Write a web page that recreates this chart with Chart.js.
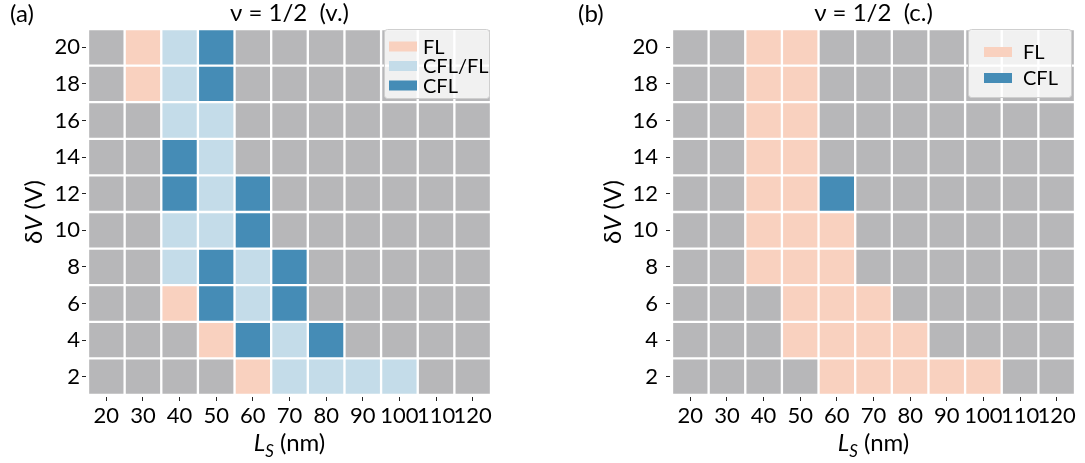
<!DOCTYPE html>
<html>
<head>
<meta charset="utf-8">
<script src="https://cdn.jsdelivr.net/npm/chart.js@4.4.1/dist/chart.umd.min.js"></script>
<style>
  body { margin: 0; background: #fff; }
  #wrap { position: relative; width: 1085px; height: 463px; }
  #boxA { position: absolute; left: 0; top: 0; width: 545px; height: 463px; }
  #boxB { position: absolute; left: 545px; top: 0; width: 540px; height: 463px; }
</style>
</head>
<body>
<div id="wrap">
  <div id="boxA"><canvas id="chartA"></canvas></div>
  <div id="boxB"><canvas id="chartB"></canvas></div>
</div>
<script>
// L_S categories (nm) and dV rows (V), top row first
const lsLabels = ['20', '30', '40', '50', '60', '70', '80', '90', '100', '110', '120'];
const dvRows = [20, 18, 16, 14, 12, 10, 8, 6, 4, 2];
const dvTicks = [2, 4, 6, 8, 10, 12, 14, 16, 18, 20];

// phase codes: 0 = none, 1 = FL, 2 = CFL/FL, 3 = CFL
const phaseNames = ['', 'FL', 'CFL/FL', 'CFL'];

// (a) nu = 1/2 (v.)
const phasesV = [
  [0, 1, 2, 3, 0, 0, 0, 0, 0, 0, 0],
  [0, 1, 2, 3, 0, 0, 0, 0, 0, 0, 0],
  [0, 0, 2, 2, 0, 0, 0, 0, 0, 0, 0],
  [0, 0, 3, 2, 0, 0, 0, 0, 0, 0, 0],
  [0, 0, 3, 2, 3, 0, 0, 0, 0, 0, 0],
  [0, 0, 2, 2, 3, 0, 0, 0, 0, 0, 0],
  [0, 0, 2, 3, 2, 3, 0, 0, 0, 0, 0],
  [0, 0, 1, 3, 2, 3, 0, 0, 0, 0, 0],
  [0, 0, 0, 1, 3, 2, 3, 0, 0, 0, 0],
  [0, 0, 0, 0, 1, 2, 2, 2, 2, 0, 0]
];

// (b) nu = 1/2 (c.)
const phasesC = [
  [0, 0, 1, 1, 0, 0, 0, 0, 0, 0, 0],
  [0, 0, 1, 1, 0, 0, 0, 0, 0, 0, 0],
  [0, 0, 1, 1, 0, 0, 0, 0, 0, 0, 0],
  [0, 0, 1, 1, 0, 0, 0, 0, 0, 0, 0],
  [0, 0, 1, 1, 3, 0, 0, 0, 0, 0, 0],
  [0, 0, 1, 1, 1, 0, 0, 0, 0, 0, 0],
  [0, 0, 1, 1, 1, 0, 0, 0, 0, 0, 0],
  [0, 0, 0, 1, 1, 1, 0, 0, 0, 0, 0],
  [0, 0, 0, 1, 1, 1, 1, 0, 0, 0, 0],
  [0, 0, 0, 0, 1, 1, 1, 1, 1, 0, 0]
];

const legendV = [1, 2, 3];
const legendC = [1, 3];

const phaseColors = ['#b7b7b9', '#f9d1bf', '#c4dce9', '#458cb6'];
const FONT = 'Lato, "Open Sans", sans-serif';
const FS = 22;   // tick labels
const FT = 24;   // titles

function makeDatasets(grid) {
  return dvRows.map((dv, r) => ({
    label: 'dV = ' + dv,
    data: grid[r].map(() => [dv - 1, dv + 1]),
    backgroundColor: grid[r].map(c => phaseColors[c]),
    borderColor: '#ffffff',
    borderWidth: 1.5,
    borderSkipped: false,
    grouped: false,
    barPercentage: 1,
    categoryPercentage: 1
  }));
}

function drawParts(ctx, parts, x, y) {
  let w = 0;
  parts.forEach(p => {
    ctx.font = (p.italic ? 'italic ' : '') + p.size + 'px ' + FONT;
    p.w = ctx.measureText(p.text).width;
    w += p.w;
  });
  let cx = x - w / 2;
  ctx.textAlign = 'left';
  ctx.textBaseline = 'alphabetic';
  parts.forEach(p => {
    ctx.font = (p.italic ? 'italic ' : '') + p.size + 'px ' + FONT;
    ctx.fillText(p.text, cx, y + (p.dy || 0));
    cx += p.w;
  });
}

const decor = {
  id: 'decor',
  afterDraw(chart, args, o) {
    const ctx = chart.ctx;
    const a = chart.chartArea;
    ctx.save();
    ctx.fillStyle = '#000';

    // panel letter
    ctx.font = FT + 'px ' + FONT;
    ctx.textAlign = 'left';
    ctx.textBaseline = 'alphabetic';
    ctx.fillText(o.letter, o.letterX, 22);

    // axis titles
    drawParts(ctx, [
      { text: 'L', italic: true, size: FT },
      { text: 'S', italic: true, size: 17, dy: 6 },
      { text: ' (nm)', size: FT }
    ], (a.left + a.right) / 2, 451);

    ctx.save();
    ctx.translate(o.yTitleX, (a.top + a.bottom) / 2);
    ctx.rotate(-Math.PI / 2);
    drawParts(ctx, [
      { text: 'δ', size: FT },
      { text: 'V', italic: true, size: FT },
      { text: ' (V)', size: FT }
    ], 0, 8);
    ctx.restore();

    // legend box
    const bx = a.left + 296, by = a.top, bw = a.right - o.legendRight - bx, bh = o.legendH;
    ctx.beginPath();
    ctx.roundRect(bx + 0.5, by + 0.5, bw, bh, 3);
    ctx.fillStyle = 'rgba(255,255,255,0.8)';
    ctx.fill();
    ctx.strokeStyle = '#cfcfcf';
    ctx.lineWidth = 1;
    ctx.stroke();

    ctx.font = '20px ' + FONT;
    ctx.textBaseline = 'middle';
    o.items.forEach((code, i) => {
      const yc = by + o.rowY0 + i * o.rowStep;
      ctx.fillStyle = phaseColors[code];
      ctx.fillRect(bx + o.swatchX, yc - 5, 28, 10);
      ctx.fillStyle = '#000';
      ctx.fillText(phaseNames[code], bx + o.textX, yc + 1);
    });
    ctx.restore();
  }
};

function makeChart(id, grid, cfg) {
  return new Chart(document.getElementById(id), {
    type: 'bar',
    data: { labels: lsLabels, datasets: makeDatasets(grid) },
    plugins: [decor],
    options: {
      responsive: true,
      maintainAspectRatio: false,
      animation: false,
      layout: { padding: { left: 0, right: cfg.padRight, top: 0, bottom: 0 } },
      scales: {
        x: {
          type: 'category',
          offset: true,
          afterFit: s => { s.height = 68; },
          grid: { display: true, offset: false, drawOnChartArea: false, tickLength: 8, tickColor: '#222', tickBorderDash: [0, 2, 4, 10] },
          border: { display: false },
          ticks: { autoSkip: false, maxRotation: 0, minRotation: 0, padding: 0, color: '#000', font: { family: FONT, size: FS } }
        },
        y: {
          type: 'linear',
          min: 1,
          max: 21,
          afterBuildTicks: s => { s.ticks = dvTicks.map(v => ({ value: v })); },
          afterFit: s => { s.width = cfg.yWidth; },
          grid: { display: true, drawOnChartArea: false, tickLength: 8, tickColor: '#222', tickBorderDash: [0, 2, 4, 10] },
          border: { display: false },
          ticks: { padding: cfg.yPad, color: '#000', font: { family: FONT, size: FS } }
        }
      },
      plugins: {
        legend: { display: false },
        tooltip: { enabled: false },
        title: {
          display: true,
          text: cfg.title,
          fullSize: false,
          color: '#000',
          font: { family: FONT, size: FT, weight: 'normal', lineHeight: 1 },
          padding: { top: 1, bottom: 4 }
        },
        decor: cfg.decor
      }
    }
  });
}

makeChart('chartA', phasesV, {
  title: 'ν = 1/2  (v.)',
  padRight: 54, yWidth: 88, yPad: 0,
  decor: { letter: '(a)', letterX: 10, yTitleX: 34, items: legendV, legendRight: 2, legendH: 69,
           swatchX: 5, textX: 39, rowY0: 17.5, rowStep: 19.5 }
});

makeChart('chartB', phasesC, {
  title: 'ν = 1/2  (c.)',
  padRight: 10, yWidth: 127, yPad: 6,
  decor: { letter: '(b)', letterX: 33, yTitleX: 68, items: legendC, legendRight: 4, legendH: 68,
           swatchX: 16, textX: 55, rowY0: 23, rowStep: 26 }
});
</script>
</body>
</html>
